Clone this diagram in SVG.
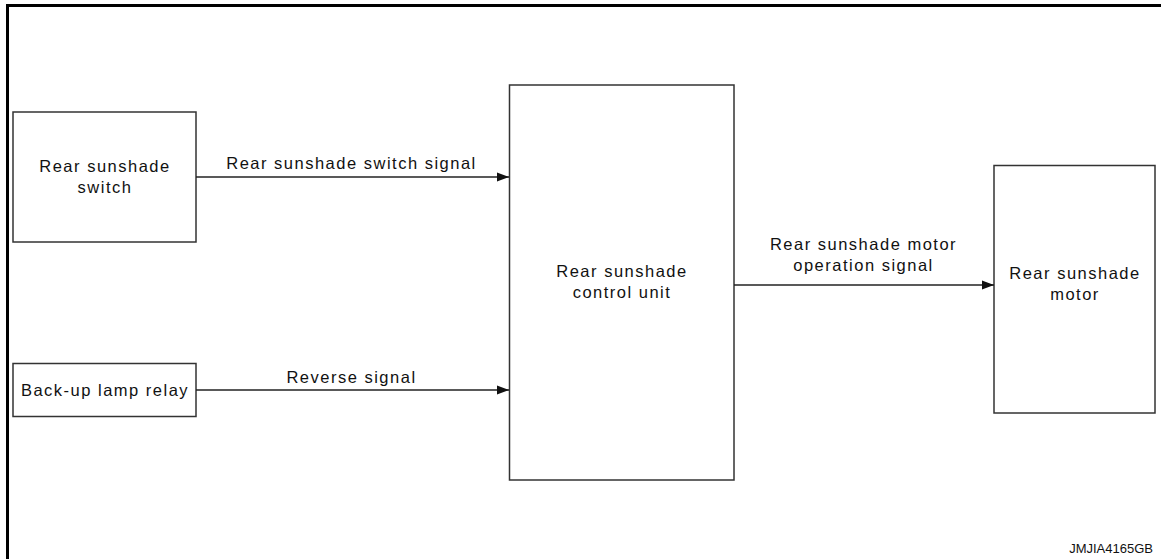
<svg xmlns="http://www.w3.org/2000/svg" width="1161" height="559" viewBox="0 0 1161 559">
<style>
.box{fill:#fff;stroke:#333;stroke-width:1.5}
.t{font-family:"Liberation Sans",Arial,sans-serif;font-size:16.5px;fill:#111;text-anchor:middle;letter-spacing:1.5px}
.c{stroke:#222;stroke-width:1.5;fill:none;marker-end:url(#ah)}
</style>
<defs>
<marker id="ah" markerUnits="userSpaceOnUse" markerWidth="13" markerHeight="11" refX="12" refY="5.5" orient="auto">
<path d="M0,1 L12,5.5 L0,10 Z" fill="#111"/>
</marker>
</defs>
<rect width="1161" height="559" fill="#fff"/>
<path d="M7.5,559 V5.5 H1161" fill="none" stroke="#000" stroke-width="3"/>
<g id="switch">
<rect class="box" x="13" y="112" width="183" height="130"/>
<text class="t" x="105" y="172">Rear sunshade</text>
<text class="t" x="105" y="193">switch</text>
</g>
<g id="relay">
<rect class="box" x="13" y="363.5" width="183" height="53"/>
<text class="t" x="105" y="396">Back-up lamp relay</text>
</g>
<g id="control">
<rect class="box" x="509.5" y="85" width="224.5" height="395"/>
<text class="t" x="622" y="277">Rear sunshade</text>
<text class="t" x="622" y="298">control unit</text>
</g>
<g id="motor">
<rect class="box" x="994" y="165.5" width="161" height="247.5"/>
<text class="t" x="1075" y="279">Rear sunshade</text>
<text class="t" x="1075" y="300">motor</text>
</g>
<g id="connectors">
<line class="c" x1="196" y1="177" x2="509" y2="177"/>
<text class="t" x="351.5" y="169">Rear sunshade switch signal</text>
<line class="c" x1="196" y1="390" x2="509" y2="390"/>
<text class="t" x="351.5" y="383">Reverse signal</text>
<line class="c" x1="734" y1="285" x2="994" y2="285"/>
<text class="t" x="863.5" y="250">Rear sunshade motor</text>
<text class="t" x="863.5" y="271">operation signal</text>
</g>
<text x="1153" y="553" font-family="Liberation Sans,Arial,sans-serif" font-size="13" fill="#111" text-anchor="end">JMJIA4165GB</text>
</svg>
